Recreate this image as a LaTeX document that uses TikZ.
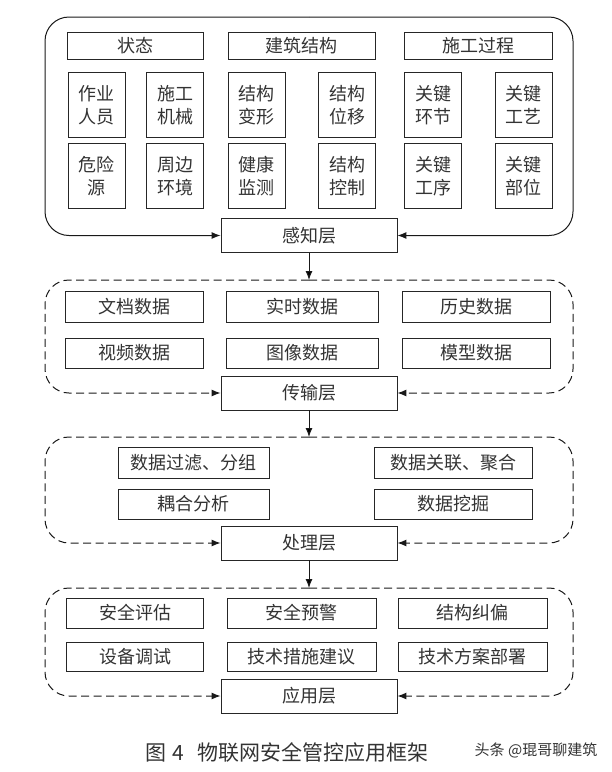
\documentclass[tikz,border=0pt]{standalone}
\usepackage{fontspec}
\setmainfont{Noto Sans CJK SC}
\usepackage{tikz}
\usetikzlibrary{arrows.meta, positioning}

\begin{document}
\begin{tikzpicture}[x=1pt, y=-1pt,
        >={Latex[length=9pt, width=7pt]},
        every node/.style={font=\fontsize{18}{23}\selectfont, text=black!80},
        box/.style={draw=black!85, line width=0.9pt, inner sep=0pt, align=center},
        tallbox/.style={box, minimum width=57pt, minimum height=65pt},
        layerbox/.style={box, minimum width=176pt, minimum height=34pt, fill=white},
        frame/.style={draw=black!90, line width=1pt, rounded corners=24pt},
        dashframe/.style={frame, dash pattern=on 8pt off 4.5pt}]
                        \useasboundingbox (0, 0) rectangle (612, 772);

                        % perception layer
                        \node[box, minimum width=136pt, minimum height=27pt] (state) at (135, 45.5) {状态};
                        \node[box, minimum width=147pt, minimum height=27pt] (struct) at (301.5, 45.5) {建筑结构};
                        \node[box, minimum width=148pt, minimum height=27pt] (process) at (478, 45.5) {施工过程};
                        \node[tallbox] (worker) at (96.5, 105) {作业\\人员};
                        \node[tallbox] (machine) at (175, 105) {施工\\机械};
                        \node[tallbox] (deform) at (256.5, 105) {结构\\变形};
                        \node[tallbox] (shift) at (347, 105) {结构\\位移};
                        \node[tallbox] (link) at (433, 105) {关键\\环节};
                        \node[tallbox] (craft) at (523.5, 105) {关键\\工艺};
                        \node[tallbox] (hazard) at (96.5, 176) {危险\\源};
                        \node[tallbox] (around) at (175, 176) {周边\\环境};
                        \node[tallbox] (health) at (256.5, 176) {健康\\监测};
                        \node[tallbox] (control) at (347, 176) {结构\\控制};
                        \node[tallbox] (step) at (433, 176) {关键\\工序};
                        \node[tallbox] (part) at (523.5, 176) {关键\\部位};
                        \node[layerbox] (sense) at (309, 235.5) {感知层};
                        \coordinate (top1) at (309, 17);

                        % transmission layer
                        \node[box, minimum width=138pt, minimum height=31pt] (doc) at (134, 307) {文档数据};
                        \node[box, minimum width=152pt, minimum height=31pt] (live) at (302, 307) {实时数据};
                        \node[box, minimum width=148pt, minimum height=31pt] (history) at (476, 307) {历史数据};
                        \node[box, minimum width=138pt, minimum height=30pt] (video) at (134, 353) {视频数据};
                        \node[box, minimum width=152pt, minimum height=30pt] (image) at (302, 353) {图像数据};
                        \node[box, minimum width=148pt, minimum height=30pt] (model) at (476, 353) {模型数据};
                        \node[layerbox] (trans) at (309, 393) {传输层};
                        \coordinate (top2) at (309, 280);

                        % processing layer
                        \node[box, minimum width=151pt, minimum height=31pt] (filter) at (193.5, 462.5) {数据过滤、分组};
                        \node[box, minimum width=158pt, minimum height=31pt] (assoc) at (453, 462.5) {数据关联、聚合};
                        \node[box, minimum width=151pt, minimum height=30pt] (couple) at (193.5, 504) {耦合分析};
                        \node[box, minimum width=158pt, minimum height=30pt] (mining) at (453, 504) {数据挖掘};
                        \node[layerbox] (proc) at (309, 543) {处理层};
                        \coordinate (top3) at (309, 437);

                        % application layer
                        \node[box, minimum width=137pt, minimum height=30pt] (assess) at (135, 613) {安全评估};
                        \node[box, minimum width=149pt, minimum height=30pt] (warn) at (301.5, 613) {安全预警};
                        \node[box, minimum width=149pt, minimum height=30pt] (correct) at (472.5, 613) {结构纠偏};
                        \node[box, minimum width=137pt, minimum height=29pt] (debug) at (135, 656.5) {设备调试};
                        \node[box, minimum width=149pt, minimum height=29pt] (advice) at (301.5, 656.5) {技术措施建议};
                        \node[box, minimum width=149pt, minimum height=29pt] (deploy) at (472.5, 656.5) {技术方案部署};
                        \node[layerbox] (app) at (309, 696) {应用层};
                        \coordinate (top4) at (309, 588);

                        \node (caption) at (287, 752) {\fontsize{21}{24}\selectfont 图\hspace{6pt}4\hspace{14pt}物联网安全管控应用框架};
                        \node[font=\fontsize{15}{18}\selectfont] (mark) at (536, 750) {头条 @琨哥聊建筑};

                        \draw[frame, ->] (top1) -| (45, 235.5) -- (sense.west);
                        \draw[frame, ->] (top1) -| (573, 235.5) -- (sense.east);
                        \draw[dashframe, ->] (top2) -| (45, 393) -- (trans.west);
                        \draw[dashframe, ->] (top2) -| (573, 393) -- (trans.east);
                        \draw[dashframe, ->] (top3) -| (45, 543) -- (proc.west);
                        \draw[dashframe, ->] (top3) -| (573, 543) -- (proc.east);
                        \draw[dashframe, ->] (top4) -| (45, 696) -- (app.west);
                        \draw[dashframe, ->] (top4) -| (573, 696) -- (app.east);

                        \draw[line width=1pt, draw=black!90]
                        (sense) edge[->] (top2)
                        (trans) edge[->] (top3)
                        (proc) edge[->] (top4);
                    \end{tikzpicture}
\end{document}
